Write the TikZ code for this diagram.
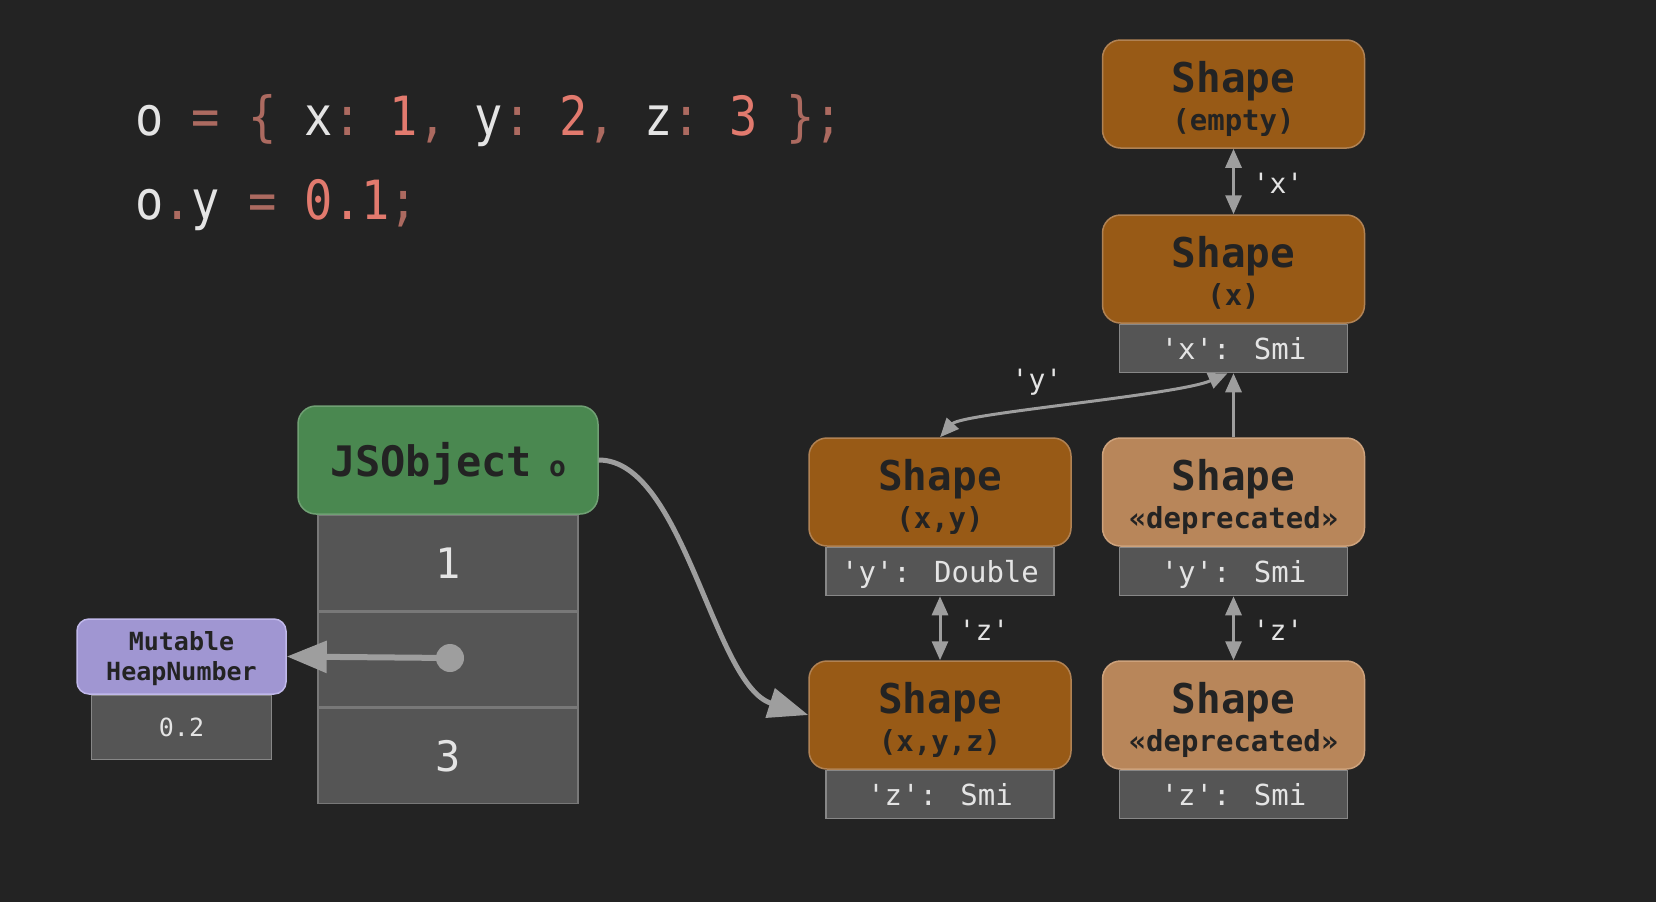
\documentclass[tikz,border=0pt]{standalone}
\usepackage{fontspec}
\usepackage{graphicx}
\usetikzlibrary{arrows.meta}
\newfontfamily\monof{DejaVu Sans Mono}
\newcommand{\mysq}{\symbol{39}}
\definecolor{bgc}{RGB}{35,35,35}
\definecolor{shapedark}{RGB}{152,90,22}
\definecolor{shapedarkb}{RGB}{176,130,84}
\definecolor{shapelight}{RGB}{184,134,90}
\definecolor{shapelightb}{RGB}{205,162,124}
\definecolor{jsgreen}{RGB}{74,136,80}
\definecolor{jsgreenb}{RGB}{112,160,116}
\definecolor{heappurple}{RGB}{160,150,210}
\definecolor{heappurpleb}{RGB}{192,184,234}
\definecolor{fieldfill}{RGB}{85,85,85}
\definecolor{fieldborder}{RGB}{135,135,135}
\definecolor{rowborder}{RGB}{120,120,120}
\definecolor{arrowgray}{RGB}{158,158,158}
\definecolor{lighttext}{RGB}{228,228,228}
\definecolor{darktext}{RGB}{35,35,35}
\definecolor{codepunct}{RGB}{172,106,96}
\definecolor{codenum}{RGB}{226,122,110}
\newcommand{\codep}[1]{\textcolor{codepunct}{#1}}
\newcommand{\coden}[1]{\textcolor{codenum}{#1}}
\tikzset{
  shapebox/.style={rectangle, rounded corners=18pt, minimum width=262pt, minimum height=108pt,
    fill=shapedark, draw=shapedarkb, line width=1.5pt, inner sep=0pt},
  depbox/.style={shapebox, fill=shapelight, draw=shapelightb},
  titletext/.style={anchor=base, inner sep=0pt, text=darktext,
    font=\monof\bfseries\fontsize{41}{41}\selectfont},
  subtext/.style={anchor=base, inner sep=0pt, text=darktext,
    font=\monof\bfseries\fontsize{29}{29}\selectfont},
  field/.style={rectangle, anchor=north, minimum width=228pt, minimum height=48pt,
    fill=fieldfill, draw=fieldborder, line width=1.5pt, text=lighttext,
    font=\monof\fontsize{29}{29}\selectfont, text height=21pt, text depth=0pt, inner sep=0pt},
  jsbox/.style={rectangle, rounded corners=18pt, minimum width=300pt, minimum height=108pt,
    fill=jsgreen, draw=jsgreenb, line width=1.5pt, inner sep=0pt},
  jrow/.style={rectangle, anchor=north, minimum width=260pt, minimum height=95pt,
    fill=fieldfill, draw=rowborder, line width=1.5pt, text=lighttext,
    font=\monof\fontsize{42}{42}\selectfont, text height=30pt, text depth=0pt, inner sep=0pt},
  heapbox/.style={rectangle, rounded corners=12pt, minimum width=209pt, minimum height=75pt,
    fill=heappurple, draw=heappurpleb, line width=1.5pt, inner sep=0pt},
  heapfield/.style={rectangle, anchor=north, minimum width=180pt, minimum height=64pt,
    fill=fieldfill, draw=fieldborder, line width=1.5pt, text=lighttext,
    font=\monof\fontsize{25}{25}\selectfont, text height=18pt, text depth=0pt, inner sep=0pt},
  heaptext/.style={anchor=base, inner sep=0pt, text=darktext,
    font=\monof\bfseries\fontsize{25}{25}\selectfont},
  edgelabel/.style={anchor=base, inner sep=0pt, text=lighttext,
    font=\monof\fontsize{28}{28}\selectfont},
  codeline/.style={anchor=base west, inner sep=0pt, text=lighttext,
    font=\monof\fontsize{47}{47}\selectfont\frenchspacing},
  dblarr/.style={draw=arrowgray, line width=3pt,
    {Triangle[length=19pt,width=16pt]}-{Triangle[length=19pt,width=16pt]}},
  sglarr/.style={draw=arrowgray, line width=3pt, -{Triangle[length=19pt,width=16pt]}},
  bigarr/.style={draw=arrowgray, line width=5pt, -{Triangle[length=40pt,width=30pt]}},
  heaparr/.style={draw=arrowgray, line width=6pt, -{Triangle[length=40pt,width=31pt]}},
}
\begin{document}
\begin{tikzpicture}[x=1pt, y=-1pt]
\path[fill=bgc] (0,0) rectangle (1656,902);
\useasboundingbox (0,0) rectangle (1656,902);

% code
\node[codeline] (line1) at (135,135) {\scalebox{1}[1.15]{o \codep{=} \codep{\{} x\codep{:} \coden{1}\codep{,} y\codep{:} \coden{2}\codep{,} z\codep{:} \coden{3} \codep{\}}\codep{;}}};
\node[codeline] (line2) at (135,219) {\scalebox{1}[1.15]{o\codep{.}y \codep{=} \coden{0.1}\codep{;}}};

% shapes
\node[shapebox] (se) at (1233.5,94) {};
\node[titletext] (se-t) at (1233.5,92) {Shape};
\node[subtext] (se-s) at (1233.5,130) {(empty)};

\node[shapebox] (sx) at (1233.5,269) {};
\node[titletext] (sx-t) at (1233.5,267) {Shape};
\node[subtext] (sx-s) at (1233.5,305) {(x)};
\node[field] (xsmi) at (sx.south) {\mysq x\mysq: Smi};

\node[shapebox] (sxy) at (940,492) {};
\node[titletext] (sxy-t) at (940,490) {Shape};
\node[subtext] (sxy-s) at (940,528) {(x,y)};
\node[field] (ydbl) at (sxy.south) {\mysq y\mysq: Double};

\node[depbox] (dep1) at (1233.5,492) {};
\node[titletext] (dep1-t) at (1233.5,490) {Shape};
\node[subtext] (dep1-s) at (1233.5,528) {«deprecated»};
\node[field] (ysmi) at (dep1.south) {\mysq y\mysq: Smi};

\node[shapebox] (sxyz) at (940,715) {};
\node[titletext] (sxyz-t) at (940,713) {Shape};
\node[subtext] (sxyz-s) at (940,751) {(x,y,z)};
\node[field] (zsmi1) at (sxyz.south) {\mysq z\mysq: Smi};

\node[depbox] (dep2) at (1233.5,715) {};
\node[titletext] (dep2-t) at (1233.5,713) {Shape};
\node[subtext] (dep2-s) at (1233.5,751) {«deprecated»};
\node[field] (zsmi2) at (dep2.south) {\mysq z\mysq: Smi};

% JSObject
\node[jsbox] (jso) at (448,460) {};
\node[anchor=base, inner sep=0pt, text=darktext, font=\monof\bfseries\fontsize{42}{42}\selectfont]
  (jso-t) at (448,476) {JSObject{\fontsize{28}{28}\selectfont\ o}};
\node[jrow] (r1) at (jso.south) {1};
\node[jrow] (r2) at (r1.south) {};
\node[jrow] (r3) at (r2.south) {3};
\node[circle, fill=arrowgray, minimum size=28pt, inner sep=0pt] (dot) at (450,658) {};

% heap number
\node[heapbox] (heap) at (181.5,656.5) {};
\node[heaptext] (heap-t1) at (181.5,650) {Mutable};
\node[heaptext] (heap-t2) at (181.5,680) {HeapNumber};
\node[heapfield] (heapv) at (heap.south) {0.2};

% connectors
\draw[dblarr] (se.south) -- (sx.north);
\node[edgelabel] (lx) at (1278,193) {\mysq x\mysq};
\draw[sglarr] (dep1.north) -- (xsmi.south);
\coordinate (yend) at ([xshift=-6pt]xsmi.south);
\draw[dblarr] (sxy.north) .. controls +(22,-24) and +(-50,22) .. (yend);
\node[edgelabel] (ly) at (1037,389) {\mysq y\mysq};
\draw[dblarr] (ydbl.south) -- (sxyz.north);
\node[edgelabel] (lz1) at (984,640) {\mysq z\mysq};
\draw[dblarr] (ysmi.south) -- (dep2.north);
\node[edgelabel] (lz2) at (1278,640) {\mysq z\mysq};
\draw[bigarr] (jso.east) .. controls +(85,0) and +(-95,-30) .. (sxyz.west);
\draw[heaparr] (dot.center) -- (heap.east);
\end{tikzpicture}
\end{document}
